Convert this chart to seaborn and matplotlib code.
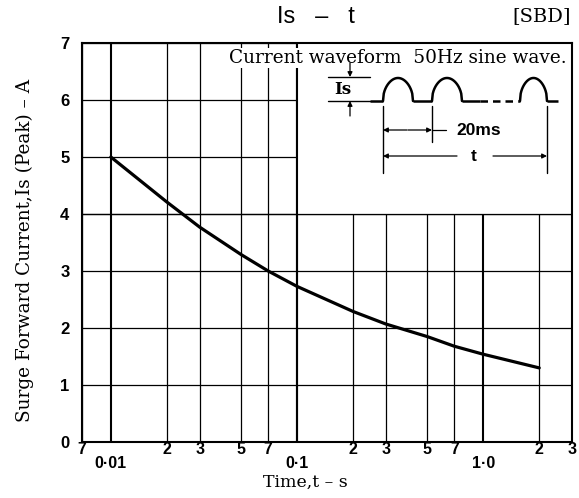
import numpy as np
import pandas as pd
import matplotlib
matplotlib.use("Agg")
import matplotlib.pyplot as plt
from matplotlib.patches import Rectangle
import seaborn as sns

# ---- data ----
time_s = [0.01, 0.02, 0.03, 0.05, 0.07, 0.1, 0.2, 0.3, 0.5, 0.7, 1.0, 2.0]
surge_current_a = [5.0, 4.21, 3.77, 3.29, 3.0, 2.73, 2.29, 2.07, 1.85, 1.68, 1.54, 1.30]

x_major_ticks = [0.01, 0.1, 1.0]
x_major_labels = ["0·01", "0·1", "1·0"]
x_minor_ticks = [0.007, 0.02, 0.03, 0.05, 0.07, 0.2, 0.3, 0.5, 0.7, 2.0, 3.0]
x_minor_labels = ["7", "2", "3", "5", "7", "2", "3", "5", "7", "2", "3"]
y_ticks = [0, 1, 2, 3, 4, 5, 6, 7]
y_labels = [str(v) for v in y_ticks]

df = pd.DataFrame({"t": time_s, "Is": surge_current_a})

sns.set_theme(style="white")
plt.rcParams["font.family"] = ["DejaVu Serif", "DejaVu Sans"]

W, H = 579, 498
fig = plt.figure(figsize=(W / 100, H / 100), dpi=100)
L, R, T, B = 82, 572, 43, 442
ax = fig.add_axes([L / W, 1 - B / H, (R - L) / W, (B - T) / H])

sns.lineplot(data=df, x="t", y="Is", ax=ax, color="black", linewidth=2.3,
             zorder=3, legend=False)

ax.set_xscale("log")
ax.set_xlim(0.007, 3.0)
ax.set_ylim(0, 7)

ax.set_xticks(x_major_ticks)
ax.set_xticklabels(x_major_labels)
ax.set_xticks(x_minor_ticks, minor=True)
ax.set_xticklabels(x_minor_labels, minor=True)
ax.set_yticks(y_ticks)
ax.set_yticklabels(y_labels)

for lab in ax.get_xticklabels(which="both"):
    lab.set_fontfamily("Liberation Sans")
    lab.set_fontweight("bold")
    lab.set_fontsize(11.5)
    lab.set_color("black")
for lab in ax.get_yticklabels():
    lab.set_fontfamily("Liberation Sans")
    lab.set_fontweight("bold")
    lab.set_fontsize(12)
    lab.set_color("black")

ax.tick_params(axis="x", which="minor", length=0, pad=0)
ax.tick_params(axis="x", which="major", length=0, pad=10)
ax.tick_params(axis="y", which="major", length=0, pad=9)

# grid
ax.set_axisbelow(True)
ax.grid(which="major", axis="x", color="black", linewidth=1.5)
ax.grid(which="minor", axis="x", color="black", linewidth=0.9)
ax.grid(which="major", axis="y", color="black", linewidth=0.9)

for sp in ax.spines.values():
    sp.set_visible(True)
    sp.set_color("black")
    sp.set_linewidth(1.5)

# white inset area (upper right)
ax.add_patch(Rectangle((0.1, 4), 3.0 - 0.1, 3, facecolor="white",
                       edgecolor="none", zorder=0.8))
ax.axvline(0.1, color="black", linewidth=1.5, zorder=0.9)
ax.axhline(4, color="black", linewidth=0.9, zorder=0.9)

# labels
ax.set_ylabel("Surge Forward Current,Is (Peak) – A", fontsize=13.3,
              family="DejaVu Serif", color="black")
ax.yaxis.set_label_coords(-0.098, 0.48)
ax.set_xlabel("Time,t – s", fontsize=12.5, family="DejaVu Serif", color="black")
ax.xaxis.set_label_coords(0.455, -0.08)

fig.text(316 / W, 1 - 17 / H, "Is   –   t", ha="center", va="center",
         fontsize=17, family="Liberation Sans", color="black")
fig.text(571 / W, 1 - 16 / H, "[SBD]", ha="right", va="center",
         fontsize=14, family="DejaVu Serif", color="black")

# ---- inset waveform diagram (axes-fraction coordinates) ----
def fx(px):
    return (px - L) / (R - L)

def fy(py):
    return (B - py) / (B - T)

tr = ax.transAxes
ax.text(fx(398), fy(58), "Current waveform  50Hz sine wave.", transform=tr,
        ha="center", va="center", fontsize=13.3, family="DejaVu Serif",
        color="black", zorder=4,
        bbox=dict(facecolor="white", edgecolor="none", pad=1.0))

base, peak = fy(101), fy(78)

def hump(x0, x1, n=40):
    u = np.linspace(0, 1, n)
    xs = fx(x0) + (fx(x1) - fx(x0)) * u
    ys = base + (peak - base) * np.sin(np.pi * u) ** 0.45
    return xs, ys

lw = 1.8
segs_flat = [(370, 383), (413, 432), (462, 480), (518, 520), (547, 558)]
for a, b in segs_flat:
    ax.plot([fx(a), fx(b)], [base, base], color="black", lw=lw, transform=tr,
            zorder=4, solid_capstyle="butt")
for a, b in [(383, 413), (432, 462), (520, 547)]:
    xs, ys = hump(a, b)
    ax.plot(xs, ys, color="black", lw=lw, transform=tr, zorder=4)
ax.plot([fx(480), fx(518)], [base, base], color="black", lw=lw,
        linestyle=(0, (3, 2)), transform=tr, zorder=4)

# Is indicator
ax.plot([fx(328), fx(370)], [fy(77), fy(77)], color="black", lw=1.0,
        transform=tr, zorder=4)
ax.plot([fx(328), fx(370)], [fy(101), fy(101)], color="black", lw=1.0,
        transform=tr, zorder=4)
arrow_kw = dict(arrowstyle="-|>", color="black", lw=0.9, mutation_scale=7,
                shrinkA=0, shrinkB=0)
ax.annotate("", xy=(fx(350), fy(77)), xytext=(fx(350), fy(63)),
            xycoords=tr, textcoords=tr, arrowprops=arrow_kw, zorder=4)
ax.annotate("", xy=(fx(350), fy(101)), xytext=(fx(350), fy(116)),
            xycoords=tr, textcoords=tr, arrowprops=arrow_kw, zorder=4)
ax.text(fx(343), fy(89), "Is", transform=tr, ha="center", va="center",
        fontsize=12, family="DejaVu Serif", weight="bold", color="black",
        zorder=4)

# vertical reference lines
for px, bot in [(383, 173), (432, 142), (547, 173)]:
    ax.plot([fx(px), fx(px)], [fy(106), fy(bot)], color="black", lw=1.0,
            transform=tr, zorder=4)

# 20ms arrows
y20 = fy(130)
ax.annotate("", xy=(fx(383), y20), xytext=(fx(407), y20), xycoords=tr,
            textcoords=tr, arrowprops=arrow_kw, zorder=4)
ax.annotate("", xy=(fx(432), y20), xytext=(fx(408), y20), xycoords=tr,
            textcoords=tr, arrowprops=arrow_kw, zorder=4)
ax.plot([fx(432), fx(446)], [y20, y20], color="black", lw=0.9,
        transform=tr, zorder=4)
ax.text(fx(479), y20, "20ms", transform=tr, ha="center", va="center",
        fontsize=12.5, family="Liberation Sans", weight="bold", color="black",
        zorder=4)

# t arrows
yt = fy(156)
ax.annotate("", xy=(fx(383), yt), xytext=(fx(457), yt), xycoords=tr,
            textcoords=tr, arrowprops=arrow_kw, zorder=4)
ax.annotate("", xy=(fx(547), yt), xytext=(fx(493), yt), xycoords=tr,
            textcoords=tr, arrowprops=arrow_kw, zorder=4)
ax.text(fx(474), yt, "t", transform=tr, ha="center", va="center",
        fontsize=12.5, family="Liberation Sans", weight="bold", color="black",
        zorder=4)

fig.savefig("out.png", dpi=100, facecolor="white")
